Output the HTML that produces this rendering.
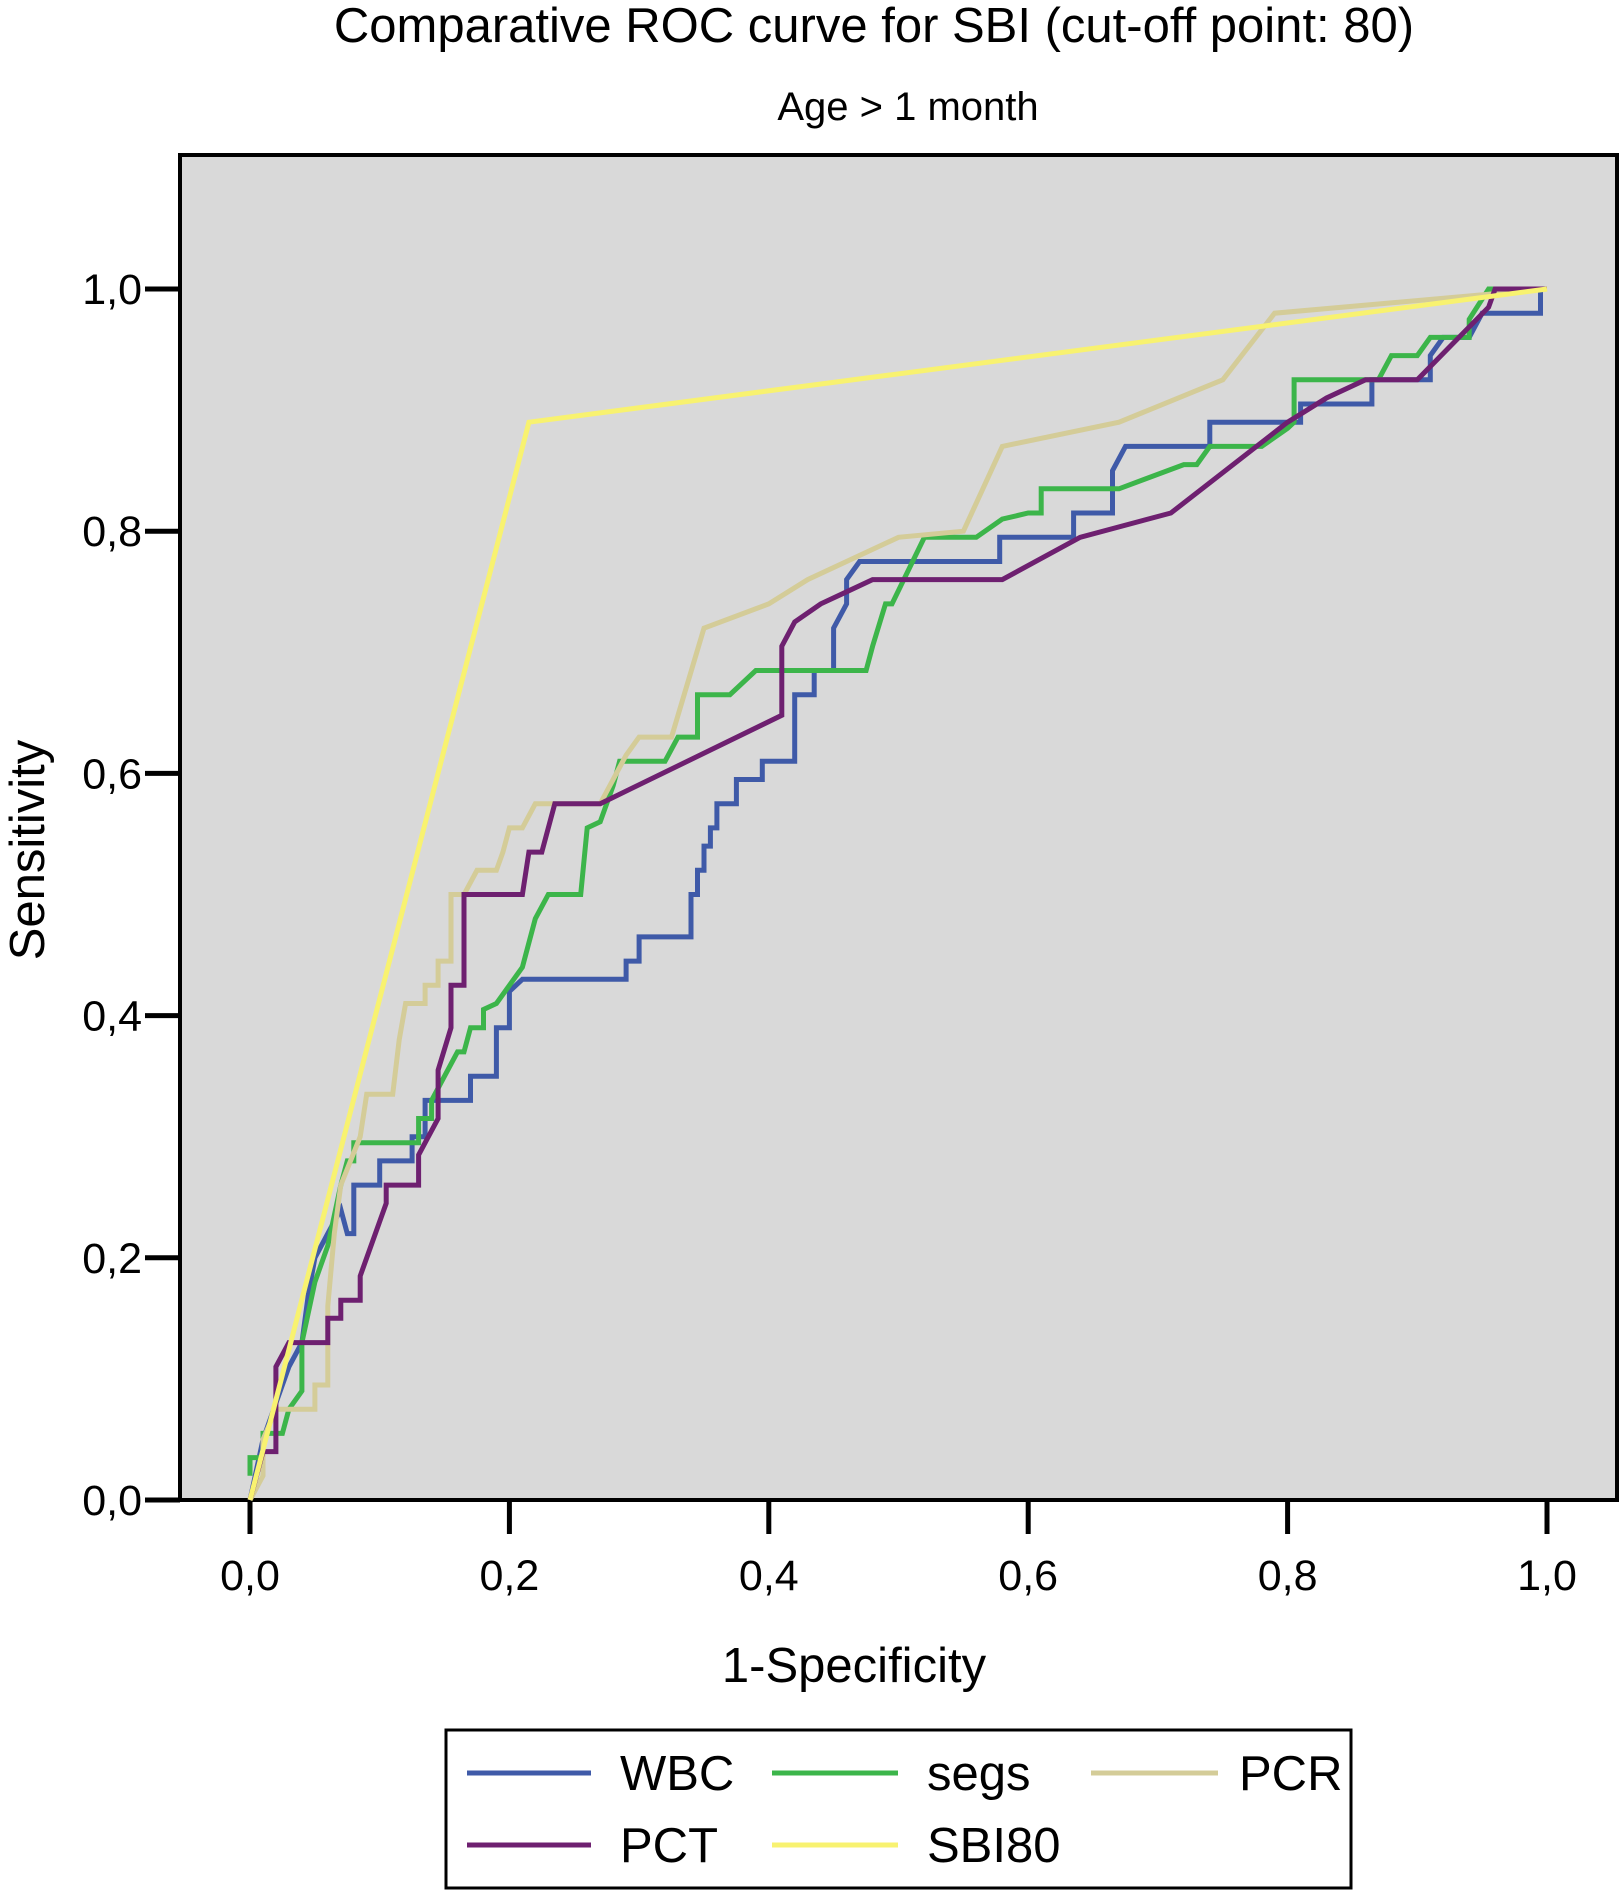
<!DOCTYPE html>
<html><head><meta charset="utf-8"><style>
html,body{margin:0;padding:0;background:#fff;}
svg{display:block;font-family:"Liberation Sans",Arial,sans-serif;}
</style></head><body>
<svg id="chart" width="1621" height="1891" viewBox="0 0 1621 1891">
<text x="874" y="42" text-anchor="middle" font-size="49">Comparative ROC curve for SBI (cut-off point: 80)</text>
<text x="908" y="120" text-anchor="middle" font-size="40">Age &gt; 1 month</text>
<rect x="180" y="155" width="1437" height="1345" fill="#d9d9d9" stroke="#000" stroke-width="4"/>
<g id="axes"></g>
<g id="series"></g>
<text x="854" y="1682" text-anchor="middle" font-size="49">1-Specificity</text>
<text transform="translate(44,850) rotate(-90)" text-anchor="middle" font-size="49">Sensitivity</text>
<g>
<rect x="446" y="1730" width="905" height="158" fill="#fff" stroke="#000" stroke-width="3"/>
<line x1="467" y1="1773" x2="591" y2="1773" stroke="#3f5aa8" stroke-width="5"/>
<text x="620" y="1790" font-size="49">WBC</text>
<line x1="772" y1="1773" x2="898" y2="1773" stroke="#3cb54a" stroke-width="5"/>
<text x="927" y="1790" font-size="49">segs</text>
<line x1="1091" y1="1773" x2="1218" y2="1773" stroke="#d4cc98" stroke-width="5"/>
<text x="1239" y="1790" font-size="49">PCR</text>
<line x1="467" y1="1845" x2="591" y2="1845" stroke="#6e2070" stroke-width="5"/>
<text x="620" y="1862" font-size="49">PCT</text>
<line x1="772" y1="1845" x2="898" y2="1845" stroke="#f8f270" stroke-width="5"/>
<text x="927" y="1862" font-size="49">SBI80</text>
</g>
</svg>
<script>
const xTicks=[0,0.2,0.4,0.6,0.8,1.0];
const yTicks=[0,0.2,0.4,0.6,0.8,1.0];
const tickLabels=["0,0","0,2","0,4","0,6","0,8","1,0"];
const wbcData=[[0,0],[0.01,0.05],[0.02,0.08],[0.03,0.11],[0.04,0.13],[0.045,0.17],[0.05,0.2],[0.06,0.22],[0.07,0.24],[0.075,0.22],[0.08,0.22],[0.08,0.26],[0.1,0.26],[0.1,0.28],[0.125,0.28],[0.125,0.3],[0.135,0.3],[0.135,0.33],[0.17,0.33],[0.17,0.35],[0.19,0.35],[0.19,0.39],[0.2,0.39],[0.2,0.42],[0.21,0.43],[0.29,0.43],[0.29,0.445],[0.3,0.445],[0.3,0.465],[0.34,0.465],[0.34,0.5],[0.345,0.5],[0.345,0.52],[0.35,0.52],[0.35,0.54],[0.355,0.54],[0.355,0.555],[0.36,0.555],[0.36,0.575],[0.375,0.575],[0.375,0.595],[0.395,0.595],[0.395,0.61],[0.42,0.61],[0.42,0.665],[0.435,0.665],[0.435,0.685],[0.45,0.685],[0.45,0.72],[0.46,0.74],[0.46,0.76],[0.47,0.775],[0.578,0.775],[0.578,0.795],[0.635,0.795],[0.635,0.815],[0.665,0.815],[0.665,0.85],[0.675,0.87],[0.74,0.87],[0.74,0.89],[0.81,0.89],[0.81,0.905],[0.865,0.905],[0.865,0.925],[0.91,0.925],[0.91,0.945],[0.92,0.96],[0.94,0.96],[0.95,0.98],[0.995,0.98],[0.995,1.0],[1,1]];
const segsData=[[0,0.02],[0,0.035],[0.01,0.035],[0.01,0.055],[0.025,0.055],[0.03,0.075],[0.04,0.09],[0.04,0.13],[0.05,0.18],[0.06,0.21],[0.065,0.235],[0.07,0.26],[0.075,0.28],[0.08,0.28],[0.08,0.295],[0.13,0.295],[0.13,0.315],[0.14,0.315],[0.14,0.33],[0.15,0.35],[0.16,0.37],[0.165,0.37],[0.17,0.39],[0.18,0.39],[0.18,0.405],[0.19,0.41],[0.21,0.44],[0.22,0.48],[0.23,0.5],[0.255,0.5],[0.26,0.555],[0.27,0.56],[0.28,0.59],[0.285,0.61],[0.32,0.61],[0.33,0.63],[0.345,0.63],[0.345,0.665],[0.37,0.665],[0.39,0.685],[0.475,0.685],[0.48,0.705],[0.49,0.74],[0.495,0.74],[0.52,0.795],[0.56,0.795],[0.58,0.81],[0.6,0.815],[0.61,0.815],[0.61,0.835],[0.67,0.835],[0.72,0.855],[0.73,0.855],[0.74,0.87],[0.78,0.87],[0.8,0.885],[0.805,0.89],[0.805,0.925],[0.87,0.925],[0.88,0.945],[0.9,0.945],[0.91,0.96],[0.94,0.96],[0.94,0.975],[0.955,1],[1,1]];
const pcrData=[[0,0],[0.01,0.02],[0.01,0.05],[0.02,0.075],[0.05,0.075],[0.05,0.095],[0.06,0.095],[0.06,0.16],[0.065,0.22],[0.07,0.26],[0.085,0.3],[0.09,0.335],[0.11,0.335],[0.115,0.38],[0.12,0.41],[0.135,0.41],[0.135,0.425],[0.145,0.425],[0.145,0.445],[0.155,0.445],[0.155,0.5],[0.165,0.5],[0.175,0.52],[0.19,0.52],[0.195,0.535],[0.2,0.555],[0.21,0.555],[0.22,0.575],[0.27,0.575],[0.29,0.615],[0.3,0.63],[0.325,0.63],[0.35,0.72],[0.4,0.74],[0.43,0.76],[0.5,0.795],[0.55,0.8],[0.58,0.87],[0.67,0.89],[0.75,0.925],[0.79,0.98],[1,1]];
const pctData=[[0,0],[0.01,0.04],[0.02,0.04],[0.02,0.11],[0.03,0.13],[0.06,0.13],[0.06,0.15],[0.07,0.15],[0.07,0.165],[0.085,0.165],[0.085,0.185],[0.105,0.245],[0.105,0.26],[0.13,0.26],[0.13,0.285],[0.145,0.315],[0.145,0.355],[0.155,0.39],[0.155,0.425],[0.165,0.425],[0.165,0.5],[0.21,0.5],[0.215,0.535],[0.225,0.535],[0.235,0.575],[0.27,0.575],[0.41,0.648],[0.41,0.705],[0.42,0.725],[0.44,0.74],[0.46,0.75],[0.48,0.76],[0.58,0.76],[0.64,0.795],[0.71,0.815],[0.8,0.89],[0.83,0.91],[0.86,0.925],[0.9,0.925],[0.955,0.985],[0.96,1],[1,1]];
const sbi80Data=[[0,0],[0.215,0.89],[1,1]];
const seriesNames=["wbc","segs","pcr","pct","sbi80"];
const seriesColors=["#3f5aa8","#3cb54a","#d4cc98","#6e2070","#f8f270"];
const seriesList=[wbcData,segsData,pcrData,pctData,sbi80Data];

const NS="http://www.w3.org/2000/svg";
const X0=250,X1=1547,Y0=1500,Y1=289;
function sx(v){return X0+(X1-X0)*v;}
function sy(v){return Y0-(Y0-Y1)*v;}
const axes=document.getElementById('axes');
function mk(tag,attrs,parent){const e=document.createElementNS(NS,tag);for(const k in attrs)e.setAttribute(k,attrs[k]);parent.appendChild(e);return e;}
xTicks.forEach((t,i)=>{
  const l=mk('line',{x1:sx(t),x2:sx(t),y1:1500,y2:1534,stroke:'#000','stroke-width':5},axes);
  
  
  const tx=mk('text',{x:sx(t),y:1590,'text-anchor':'middle','font-size':43},axes);
  tx.textContent=tickLabels[i];
  
  
});
yTicks.forEach((t,i)=>{
  const l=mk('line',{x1:145,x2:180,y1:sy(t),y2:sy(t),stroke:'#000','stroke-width':5},axes);
  
  
  const tx=mk('text',{x:142,y:sy(t)+15,'text-anchor':'end','font-size':43},axes);
  tx.textContent=tickLabels[i];
  
  
});
const sg=document.getElementById('series');
seriesList.forEach((d,i)=>{
  const p=mk('polyline',{points:d.map(q=>sx(q[0]).toFixed(1)+','+sy(q[1]).toFixed(1)).join(' '),fill:'none',stroke:seriesColors[i],'stroke-width':5,'stroke-linejoin':'miter'},sg);
  
  
});
</script>
</body></html>
